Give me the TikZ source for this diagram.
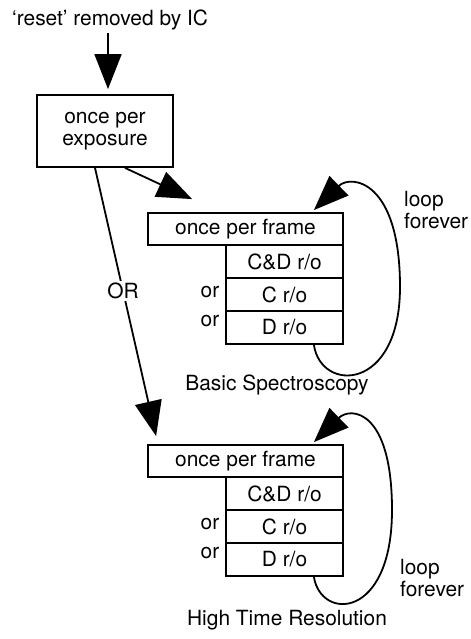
\documentclass[tikz,border=0pt]{standalone}
\usepackage{fontspec}
\setmainfont{TeX Gyre Heros}
\usetikzlibrary{arrows.meta,calc}
\begin{document}
\begin{tikzpicture}[x=1bp,y=-1bp,
  every node/.style={font=\fontsize{21}{22}\selectfont, inner sep=0pt},
  box/.style={draw, line width=1.8bp},
  rowbox/.style={box, minimum width=117bp, minimum height=33bp},
  framebox/.style={box, minimum width=195bp, minimum height=32bp},
  arr/.style={line width=1.8bp, -{Triangle[length=35bp,width=27bp]}},
  ]
\useasboundingbox (0,0) rectangle (471,639);

% entry and the per-exposure step
\node[anchor=west] (title) at (12,20) {‘reset’ removed by IC};
\node[box, minimum width=136bp, minimum height=72bp, align=center] (exp) at (105,131) {once per\\exposure};
\coordinate (tA) at ($(exp.north)+(3,-5)$);
\draw[arr, shorten <=3bp] (title.south -| tA) -- (tA);

% Basic Spectroscopy block
\node[framebox] (f1) at (245.5,229) {once per frame};
\node[rowbox] (f1a) at (284.5,261.5) {C\&D r/o};
\node[rowbox] (f1b) at (284.5,294.5) {C r/o};
\node[rowbox] (f1c) at (284.5,327.5) {D r/o};
\node (or1) at (210,292) {or};
\node (or2) at (210,321) {or};
\node (cap1) at (277,385) {Basic Spectroscopy};
\node[anchor=west, align=left] (lf1) at (404,210) {loop\\forever};

% High Time Resolution block
\node[framebox] (f2) at (245.5,461) {once per frame};
\node[rowbox] (f2a) at (284.5,493.5) {C\&D r/o};
\node[rowbox] (f2b) at (284.5,526.5) {C r/o};
\node[rowbox] (f2c) at (284.5,559.5) {D r/o};
\node (or3) at (210,524) {or};
\node (or4) at (210,553) {or};
\node (cap2) at (287,620) {High Time Resolution};
\node[anchor=west, align=left] (lf2) at (400,578) {loop\\forever};

% branches out of the per-exposure step
\coordinate (t1) at ($(f1.north west)+(45,-13)$);
\coordinate (t2) at ($(f2.north west)+(9,-8)$);
\draw[arr] ($(exp.south)+(20,0)$) -- (t1);
\draw[arr] ($(exp.south)+(-10,0)$) -- node[pos=0.46, fill=white, inner sep=2bp] (orlbl) {OR} (t2);

% frame loops
\coordinate (l1s) at ($(f1c.south east)+(-30,0)$);
\coordinate (l1e) at ($(f1.north east)+(-30,-2)$);
\draw[arr] (l1s) .. controls +(7,48) and +(0,105) .. (400,287)
                 .. controls +(0,-107) and +(37,-36) .. (l1e);
\coordinate (l2s) at ($(f2c.south east)+(-30,0)$);
\coordinate (l2e) at ($(f2.north east)+(-30,-2)$);
\draw[arr] (l2s) .. controls +(7,44) and +(0,110) .. (392,510)
                 .. controls +(0,-100) and +(37,-36) .. (l2e);
\end{tikzpicture}
\end{document}
